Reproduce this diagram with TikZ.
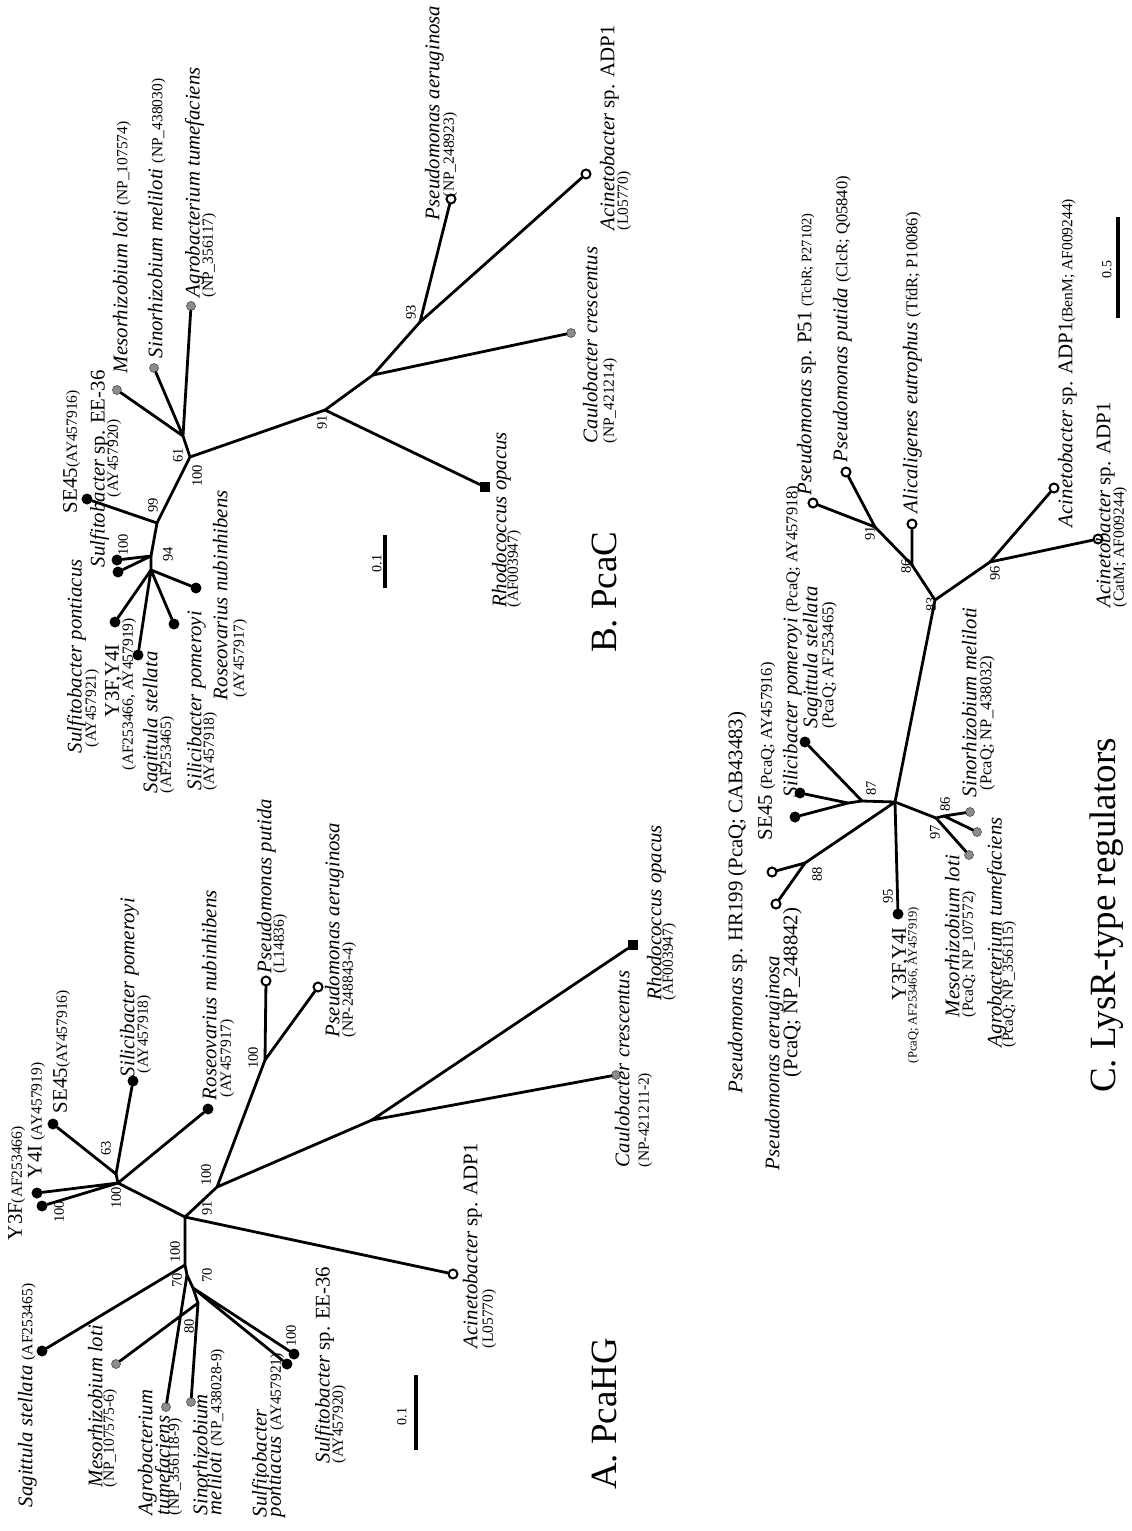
\documentclass[tikz,border=0pt]{standalone}
\usepackage{fontspec}
\setmainfont{Liberation Serif}
\newcommand{\SPN}[1]{{\fontsize{20.8}{23}\selectfont\itshape #1}}
\newcommand{\RMN}[1]{{\fontsize{20.8}{23}\selectfont #1}}
\newcommand{\ACC}[1]{{\fontsize{15.5}{17}\selectfont #1}}
\newcommand{\ACCC}[1]{{\fontsize{16.5}{18}\selectfont #1}}
\newcommand{\SMC}[1]{{\fontsize{14.5}{16}\selectfont #1}}
\begin{document}
\begin{tikzpicture}[x=1pt,y=-1pt,
 br/.style={line width=2.8pt,line cap=round},
 blk/.style={circle,fill=black,inner sep=0pt,minimum size=11pt},
 gry/.style={circle,fill=black!45,draw=black!70,line width=0.6pt,inner sep=0pt,minimum size=9pt},
 opn/.style={circle,draw=black,line width=2pt,fill=white,inner sep=0pt,minimum size=9pt},
 sqr/.style={rectangle,fill=black,inner sep=0pt,minimum size=10pt},
 lab/.style={rotate=90,anchor=north west,inner sep=0pt,outer sep=0pt},
 bs/.style={rotate=90,inner sep=0pt,font=\fontsize{14.5}{16}\selectfont},
 ttl/.style={rotate=90,anchor=north west,inner sep=0pt,font=\fontsize{37}{40}\selectfont},
 sbar/.style={line width=4pt}]
\useasboundingbox[fill=white] (0,0) rectangle (1132,1531);

%================ Tree B (PcaC) =================
\coordinate (bR) at (190,457);
\coordinate (bRz) at (183,436);
\coordinate (b91) at (325,410);
\coordinate (bNc) at (373,375);
\coordinate (b93) at (420,322);
\coordinate (b99) at (157,523);
\coordinate (b94) at (151,556);
\coordinate (b94b) at (151,570);
\draw[br] (bRz)--(bR) (bR)--(b91) (b91)--(bNc) (bNc)--(b93) (bR)--(b99) (b99)--(b94) (b94)--(b94b);
\node[gry] (bMes) at (117,390) {};
\node[gry] (bSin) at (154,368) {};
\node[gry] (bAgr) at (191,306) {};
\node[opn] (bPae) at (451,199) {};
\node[opn] (bAci) at (586,174) {};
\node[gry] (bCau) at (571,333) {};
\node[sqr] (bRho) at (485,487) {};
\node[blk] (bSE) at (87,499) {};
\node[blk] (bP1) at (117,560) {};
\node[blk] (bP2) at (118,572) {};
\node[blk] (bRos) at (196,588) {};
\node[blk] (bSil) at (174,624) {};
\node[blk] (bSag) at (138,655) {};
\node[blk] (bY) at (115,622) {};
\draw[br] (bRz)--(bMes) (bRz)--(bSin) (bRz)--(bAgr)
  (b93)--(bPae) (b93)--(bAci) (bNc)--(bCau) (b91)--(bRho)
  (b99)--(bSE) (b94)--(bP1) (b94)--(bP2)
  (b94b)--(bRos) (b94b)--(bSil) (b94b)--(bSag) (b94b)--(bY);

\node[lab] (tB1) at (113,373) {\SPN{Mesorhizobium loti }\ACC{(NP\_107574)}};
\node[lab] (tB2) at (148,358) {\SPN{Sinorhizobium meliloti }\ACC{(NP\_438030)}};
\node[lab] (tB3) at (185,297) {\SPN{Agrobacterium tumefaciens}};
\node[lab] (tB3b) at (202,297) {\ACC{(NP\_356117)}};
\node[lab] (tB4) at (63,513) {\RMN{SE45}\ACC{(AY457916)}};
\node[lab] (tB5) at (90,567) {\SPN{Sulfitobacter}\RMN{ sp. EE-36}};
\node[lab] (tB5b) at (107,497) {\ACC{(AY457920)}};
\node[lab] (tB6) at (67,753) {\SPN{Sulfitobacter pontiacus}};
\node[lab] (tB6b) at (85,747) {\ACC{(AY457921)}};
\node[lab] (tB7) at (105,717) {\RMN{Y3F,Y4I}};
\node[lab] (tB7b) at (122,770) {\ACC{(AF253466, AY457919)}};
\node[lab] (tB8) at (143,793) {\SPN{Sagittula stellata}};
\node[lab] (tB8b) at (160,793) {\ACC{(AF253465)}};
\node[lab] (tB9) at (187,790) {\SPN{Silicibacter pomeroyi}};
\node[lab] (tB9b) at (203,790) {\ACC{(AY457918)}};
\node[lab] (tB10) at (213,700) {\SPN{Roseovarius nubinhibens}};
\node[lab] (tB10b) at (233,697) {\ACC{(AY457917)}};
\node[lab] (tB11) at (425,220) {\SPN{Pseudomonas aeruginosa}};
\node[lab] (tB11b) at (443,197) {\ACC{(NP\_248923)}};
\node[lab] (tB12) at (600,230) {\SPN{Acinetobacter}\RMN{ sp. ADP1}};
\node[lab] (tB12b) at (617,230) {\ACC{(L05770)}};
\node[lab] (tB13) at (583,443) {\SPN{Caulobacter crescentus}};
\node[lab] (tB13b) at (603,443) {\ACC{(NP\_421214)}};
\node[lab] (tB14) at (492,607) {\SPN{Rhodococcus opacus}};
\node[lab] (tB14b) at (507,607) {\ACC{(AF003947)}};
\node[lab,font=\fontsize{14}{16}\selectfont] (tB15) at (372,572) {0.1};
\coordinate (sbB1) at (385,535); \coordinate (sbB2) at (385,588);
\draw[sbar] (sbB1)--(sbB2);
\node[ttl] (tB16) at (592,653) {B. PcaC};
\node[bs] (nB1) at (178,455) {61};
\node[bs] (nB2) at (197,476) {100};
\node[bs] (nB3) at (153,505) {99};
\node[bs] (nB4) at (168,554) {94};
\node[bs] (nB5) at (123,545) {100};
\node[bs] (nB6) at (322,422) {91};
\node[bs] (nB7) at (411,312) {93};

%================ Tree A (PcaHG) =================
\coordinate (aCA) at (185,1217);
\coordinate (a100a) at (118,1183);
\coordinate (a63) at (116,1174);
\coordinate (a100b) at (217,1187);
\coordinate (a100p) at (265,1060);
\coordinate (aRC) at (372,1120);
\coordinate (a100c) at (185,1265);
\coordinate (a70a) at (187,1275);
\coordinate (a70b) at (193,1288);
\coordinate (a80) at (198,1303);
\draw[br] (a63)--(a100a) (a100a)--(aCA) (aCA)--(a100b) (a100b)--(a100p) (a100b)--(aRC)
  (aCA)--(a100c) (a100c)--(a70a) (a70a)--(a70b) (a70b)--(a80);
\node[blk] (aY1) at (37,1193) {};
\node[blk] (aY2) at (42,1206) {};
\node[blk] (aSE) at (53,1124) {};
\node[blk] (aSil) at (133,1081) {};
\node[blk] (aRos) at (208,1109) {};
\node[opn] (aPpu) at (266,981) {};
\node[opn] (aPae) at (318,987) {};
\node[gry] (aCau) at (616,1075) {};
\node[sqr] (aRho) at (633,945) {};
\node[opn] (aAci) at (453,1274) {};
\node[blk] (aSag) at (42,1351) {};
\node[gry] (aAgr) at (166,1407) {};
\node[blk] (aSu1) at (294,1354) {};
\node[blk] (aSu2) at (287,1364) {};
\node[gry] (aMes) at (116,1364) {};
\node[gry] (aSin) at (191,1402) {};
\draw[br] (a100a)--(aY1) (a100a)--(aY2) (a63)--(aSE) (a63)--(aSil) (a100a)--(aRos)
  (a100p)--(aPpu) (a100p)--(aPae) (aRC)--(aCau) (aRC)--(aRho) (aCA)--(aAci)
  (a100c)--(aSag) (a70a)--(aAgr) (a70b)--(aSu1) (a70b)--(aSu2) (a80)--(aMes) (a80)--(aSin);

\node[lab] (tA1) at (8,1240) {\RMN{Y3F}\ACC{(AF253466)}};
\node[lab] (tA2) at (28,1178) {\RMN{Y4I }\ACC{(AY457919)}};
\node[lab] (tA3) at (53,1113) {\RMN{SE45}\ACC{(AY457916)}};
\node[lab] (tA4) at (120,1077) {\SPN{Silicibacter pomeroyi}};
\node[lab] (tA4b) at (137,1073) {\ACC{(AY457918)}};
\node[lab] (tA5) at (202,1100) {\SPN{Roseovarius nubinhibens}};
\node[lab] (tA5b) at (220,1097) {\ACC{(AY457917)}};
\node[lab] (tA6) at (257,973) {\SPN{Pseudomonas putida}};
\node[lab] (tA6b) at (273,973) {\ACC{(L14836)}};
\node[lab] (tA7) at (325,1037) {\SPN{Pseudomonas aeruginosa}};
\node[lab] (tA7b) at (342,1037) {\ACC{(NP-248843-4)}};
\node[lab] (tA8) at (647,1000) {\SPN{Rhodococcus opacus}};
\node[lab] (tA8b) at (662,1000) {\ACC{(AF003947)}};
\node[lab] (tA9) at (615,1167) {\SPN{Caulobacter crescentus}};
\node[lab] (tA9b) at (638,1167) {\ACC{(NP-421211-2)}};
\node[lab] (tA10) at (463,1348) {\SPN{Acinetobacter}\RMN{ sp. ADP1}};
\node[lab] (tA10b) at (482,1348) {\ACC{(L05770)}};
\node[lab] (tA11) at (18,1507) {\SPN{Sagittula stellata }\ACC{(AF253465)}};
\node[lab] (tA12) at (88,1487) {\SPN{Mesorhizobium loti}};
\node[lab] (tA12b) at (103,1487) {\ACC{(NP\_107575-6)}};
\node[lab] (tA13) at (138,1515) {\SPN{Agrobacterium}};
\node[lab] (tA13b) at (155,1515) {\SPN{tumefaciens}};
\node[lab] (tA13c) at (168,1515) {\ACC{(NP\_356118-9)}};
\node[lab] (tA14) at (193,1515) {\SPN{Sinorhizobium}};
\node[lab] (tA14b) at (207,1515) {\SPN{meliloti }\ACC{(NP\_438028-9)}};
\node[lab] (tA15) at (252,1517) {\SPN{Sulfitobacter}};
\node[lab] (tA15b) at (267,1517) {\SPN{pontiacus }\ACC{(AY457921)}};
\node[lab] (tA16) at (315,1463) {\SPN{Sulfitobacter}\RMN{ sp. EE-36}};
\node[lab] (tA16b) at (332,1463) {\ACC{(AY457920)}};
\node[lab,font=\fontsize{14}{16}\selectfont] (tA17) at (397,1425) {0.1};
\coordinate (sbA1) at (416,1375); \coordinate (sbA2) at (416,1450);
\draw[sbar] (sbA1)--(sbA2);
\node[ttl] (tA18) at (592,1490) {A. PcaHG};
\node[bs] (nA1) at (253,1058) {100};
\node[bs] (nA2) at (106,1148) {63};
\node[bs] (nA3) at (116,1198) {100};
\node[bs] (nA4) at (59,1212) {100};
\node[bs] (nA5) at (207,1208) {91};
\node[bs] (nA6) at (206,1175) {100};
\node[bs] (nA7) at (175,1252) {100};
\node[bs] (nA8) at (177,1280) {70};
\node[bs] (nA9) at (207,1275) {70};
\node[bs] (nA10) at (189,1326) {80};
\node[bs] (nA11) at (291,1336) {100};

%================ Tree C (LysR) =================
\coordinate (c91) at (875,527);
\coordinate (c86) at (912,565);
\coordinate (c83) at (935,600);
\coordinate (c96) at (990,562);
\coordinate (cC) at (895,802);
\coordinate (c87) at (862,801);
\coordinate (cSEn) at (848,803);
\coordinate (c88) at (805,863);
\coordinate (c97) at (936,818);
\coordinate (c86b) at (944,816);
\draw[br] (c91)--(c86) (c86)--(c83) (c83)--(c96) (c83)--(cC) (cC)--(c87) (c87)--(cSEn)
  (cC)--(c88) (cC)--(c97) (c97)--(c86b);
\node[opn] (cP51) at (813,503) {};
\node[opn] (cPpu) at (846,472) {};
\node[opn] (cAli) at (912,524) {};
\node[opn] (cAc1) at (1054,488) {};
\node[opn] (cAc2) at (1098,539) {};
\node[blk] (cSag) at (805,742) {};
\node[blk] (cSil) at (800,793) {};
\node[blk] (cSE) at (795,817) {};
\node[opn] (cHR) at (772,872) {};
\node[opn] (cPae) at (776,904) {};
\node[blk] (cY) at (898,914) {};
\node[gry] (cMes) at (969,855) {};
\node[gry] (cSin) at (970,812) {};
\node[gry] (cAgr) at (977,832) {};
\draw[br] (c91)--(cP51) (c91)--(cPpu) (c86)--(cAli) (c96)--(cAc1) (c96)--(cAc2)
  (c87)--(cSag) (cSEn)--(cSil) (cSEn)--(cSE) (c88)--(cHR) (c88)--(cPae)
  (cC)--(cY) (c97)--(cMes) (c86b)--(cSin) (c86b)--(cAgr);

\node[lab] (tC1) at (797,495) {\SPN{Pseudomonas}\RMN{ sp. P51 }\SMC{(TcbR; P27102)}};
\node[lab] (tC2) at (833,462) {\SPN{Pseudomonas putida }\ACCC{(ClcR; Q05840)}};
\node[lab] (tC3) at (903,513) {\SPN{Alicaligenes eutrophus }\ACCC{(TfdR; P10086)}};
\node[lab] (tC4) at (1058,527) {\SPN{Acinetobacter}\RMN{ sp. ADP1}\ACC{(BenM; AF009244)}};
\node[lab] (tC5) at (1096,607) {\SPN{Acinetobacter}\RMN{ sp. ADP1}};
\node[lab] (tC5b) at (1113,607) {\ACC{(CatM; AF009244)}};
\node[lab] (tC6) at (803,728) {\SPN{Sagittula stellata}};
\node[lab] (tC6b) at (822,728) {\ACCC{(PcaQ; AF253465)}};
\node[lab] (tC7) at (783,797) {\SPN{Silicibacter pomeroyi }\ACCC{(PcaQ; AY457918)}};
\node[lab] (tC8) at (758,840) {\RMN{SE45 }\ACCC{(PcaQ; AY457916)}};
\node[lab] (tC9) at (728,1093) {\SPN{Pseudomonas}\RMN{ sp. HR199 (PcaQ; CAB43483)}};
\node[lab] (tC10) at (765,1170) {\SPN{Pseudomonas aeruginosa}};
\node[lab] (tC10b) at (783,1077) {\RMN{(PcaQ; NP\_248842)}};
\node[lab] (tC11) at (892,1000) {\RMN{Y3F,Y4I}};
\node[lab] (tC11b) at (908,1063) {{\fontsize{12.5}{14}\selectfont (PcaQ; AF253466, AY457919)}};
\node[lab] (tC12) at (962,797) {\SPN{Sinorhizobium meliloti}};
\node[lab] (tC12b) at (980,790) {\ACCC{(PcaQ; NP\_438032)}};
\node[lab] (tC13) at (945,1017) {\SPN{Mesorhizobium loti}};
\node[lab] (tC13b) at (962,1017) {\ACC{(PcaQ; NP\_107572)}};
\node[lab] (tC14) at (987,1047) {\SPN{Agrobacterium tumefaciens}};
\node[lab] (tC14b) at (1002,1047) {\ACC{(PcaQ; NP\_356115)}};
\node[lab,font=\fontsize{14}{16}\selectfont] (tC15) at (1102,278) {0.5};
\coordinate (sbC1) at (1118,217); \coordinate (sbC2) at (1118,318);
\draw[sbar] (sbC1)--(sbC2);
\node[ttl] (tC16) at (1090,1093) {C. LysR-type regulators};
\node[bs] (nC1) at (870,533) {91};
\node[bs] (nC2) at (906,566) {86};
\node[bs] (nC3) at (931,604) {83};
\node[bs] (nC4) at (995,573) {96};
\node[bs] (nC5) at (871,788) {87};
\node[bs] (nC6) at (817,874) {88};
\node[bs] (nC7) at (888,896) {95};
\node[bs] (nC8) at (945,804) {86};
\node[bs] (nC9) at (935,832) {97};
\end{tikzpicture}
\end{document}
